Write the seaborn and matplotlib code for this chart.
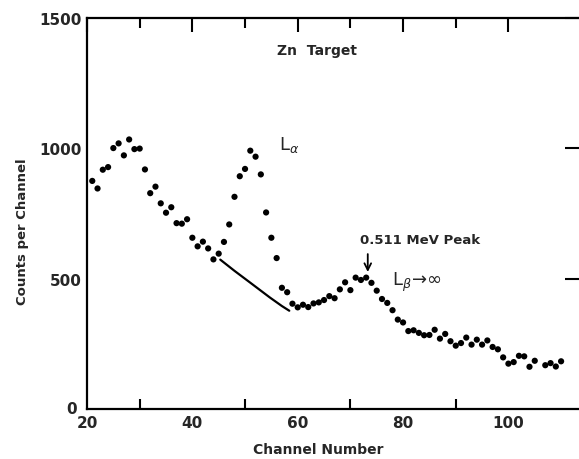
import matplotlib
matplotlib.use("Agg")
import matplotlib.pyplot as plt
import matplotlib.transforms as mtransforms
import seaborn as sns
import pandas as pd

channels = [21, 22, 23, 24, 25, 26, 27, 28, 29, 30,
            31, 32, 33, 34, 35, 36, 37, 38, 39, 40,
            41, 42, 43, 44, 45, 46, 47, 48, 49, 50,
            51, 52, 53, 54, 55, 56, 57, 58, 59, 60,
            61, 62, 63, 64, 65, 66, 67, 68, 69, 70,
            71, 72, 73, 74, 75, 76, 77, 78, 79, 80,
            81, 82, 83, 84, 85, 86, 87, 88, 89, 90,
            91, 92, 93, 94, 95, 96, 97, 98, 99, 100,
            101, 102, 103, 104, 105, 107, 108, 109, 110]
counts = [875, 846, 918, 928, 1001, 1019, 973, 1034, 997, 999,
          919, 828, 853, 789, 753, 774, 713, 711, 728, 657,
          624, 642, 616, 574, 596, 641, 708, 814, 893, 921,
          991, 968, 900, 754, 657, 579, 465, 448, 404, 390,
          400, 391, 405, 409, 418, 433, 425, 459, 486, 456,
          504, 495, 504, 484, 454, 422, 407, 379, 343, 332,
          299, 302, 292, 283, 284, 304, 270, 288, 260, 243,
          253, 274, 247, 266, 247, 263, 238, 229, 198, 174,
          180, 204, 202, 162, 185, 168, 176, 163, 183]

bg_channels = [45.3, 48.0, 50.9, 54.7, 57.0, 58.4]
bg_counts = [573, 530, 486, 428, 395, 377]

x_ticks = [20, 40, 60, 80, 100]
y_ticks = [0, 500, 1000, 1500]

sns.set_theme(style="white")
plt.rcParams['font.family'] = ['DejaVu Sans']

df = pd.DataFrame({"Channel": channels, "Counts": counts})
bg = pd.DataFrame({"Channel": bg_channels, "Counts": bg_counts})

fig = plt.figure(figsize=(5.79, 4.6), dpi=100)
ax = fig.add_axes([87/579, 1 - 410/460, 492/579, 391/460])

sns.scatterplot(data=df, x="Channel", y="Counts", ax=ax, color="black",
                s=20, edgecolor="none", legend=False)
sns.lineplot(data=bg, x="Channel", y="Counts", ax=ax, color="black",
             linewidth=1.6, legend=False)

ax.set_xlim(20, 113.4)
ax.set_ylim(0, 1500)
ax.set_xticks(x_ticks)
ax.set_xticks([30, 50, 70, 90], minor=True)
ax.set_yticks([500, 1000, 1500])
ax.set_xticklabels([str(t) for t in x_ticks], fontsize=11, fontweight="bold")
ax.set_yticklabels(["500", "1000", "1500"], fontsize=11, fontweight="bold")

# "0" label at the origin, left of the corner (as in the reference)
ax.text(-0.02, 0, "0", transform=mtransforms.blended_transform_factory(ax.transAxes, ax.transData),
        ha="right", va="center", fontsize=11, fontweight="bold")

# shift the "20" label right and a bit lower
first = ax.get_xticklabels()[0]
first.set_transform(first.get_transform() + mtransforms.ScaledTranslation(8/100, -4/100, fig.dpi_scale_trans))

for s in ["left", "bottom", "top"]:
    ax.spines[s].set_visible(True)
    ax.spines[s].set_color("black")
    ax.spines[s].set_linewidth(1.6)
ax.spines["right"].set_visible(False)

ax.tick_params(axis="both", which="major", direction="in", length=10,
               width=1.5, color="black", top=True, right=True, pad=4)
ax.tick_params(axis="x", which="minor", direction="in", length=7,
               width=1.5, color="black", top=True, bottom=True)

ax.set_xlabel("Channel Number", fontsize=10, fontweight="bold")
ax.set_ylabel("Counts per Channel", fontsize=9.5, fontweight="bold")
ax.xaxis.set_label_coords(0.47, -0.085)
ax.yaxis.set_label_coords(-0.118, 0.455)

ax.text(63.6, 1378, "Zn  Target", ha="center", va="center", fontsize=10, fontweight="bold")
ax.text(56.4, 1018, r"L$_{\alpha}$", ha="left", va="center", fontsize=13)
ax.text(71.8, 650, "0.511 MeV Peak", ha="left", va="center", fontsize=9.5, fontweight="bold")
ax.annotate("", xy=(73.3, 515), xytext=(73.3, 605),
            arrowprops=dict(arrowstyle="->", color="black", lw=1.3))
ax.text(77.9, 490, r"L$_{\beta}$$\!\rightarrow\!\infty$", ha="left", va="center",
        fontsize=13)

fig.savefig("out.png", dpi=100)
